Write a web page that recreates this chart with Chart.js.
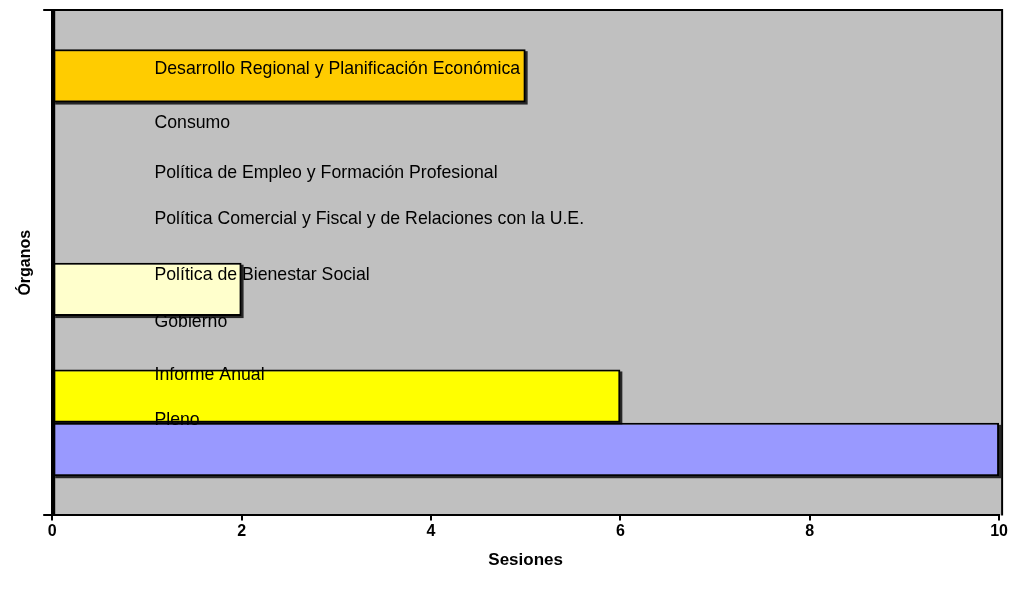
<!DOCTYPE html>
<html>
<head>
<meta charset="utf-8">
<script src="https://cdn.jsdelivr.net/npm/chart.js@4/dist/chart.umd.min.js"></script>
<style>
  body { margin: 0; background: #fff; }
  #wrap { width: 1010px; height: 594px; }
</style>
</head>
<body>
<div id="wrap"><canvas id="organosChart" width="1010" height="594"></canvas></div>
<script>
// data
const organos = [
  "Desarrollo Regional y Planificación Económica",
  "Consumo",
  "Política de Empleo y Formación Profesional",
  "Política Comercial y Fiscal y de Relaciones con la U.E.",
  "Política de Bienestar Social",
  "Gobierno",
  "Informe Anual",
  "Pleno"
];
const sesiones = [5, 0, 0, 0, 2, 0, 6, 10];
const xTicks = [0, 2, 4, 6, 8, 10];

const colores = ["#FFCC00", "#FFFFCC", "#FFFFCC", "#FFFFCC", "#FFFFCC", "#FFFFCC", "#FFFF00", "#9999FF"];
// label placement (hand placed in the original)
const labelAtX = 1.08;
const labelShift = [-7, -6, -10, -17, -14, -21, -21, -29];

const datasets = organos.map(function (name, i) {
  return {
    label: name,
    data: [sesiones[i]],
    backgroundColor: colores[i],
    borderColor: "#000",
    borderWidth: 2,
    borderSkipped: false,
    categoryPercentage: 0.845,
    barPercentage: 1.0
  };
});

const plotArea = {
  id: "plotArea",
  beforeDraw(chart) {
    const a = chart.chartArea, ctx = chart.ctx;
    ctx.save();
    ctx.fillStyle = "#C0C0C0";
    ctx.fillRect(a.left, a.top, a.right - a.left + 2, a.bottom - a.top);
    ctx.restore();
  },
  beforeDatasetsDraw(chart) {
    // drop shadow under each bar
    const ctx = chart.ctx;
    ctx.save();
    ctx.fillStyle = "rgba(0,0,0,0.8)";
    chart.data.datasets.forEach(function (ds, i) {
      const bar = chart.getDatasetMeta(i).data[0];
      const w = bar.x - bar.base;
      if (w <= 0) return;
      ctx.fillRect(bar.base + 2, bar.y - bar.height / 2 + 2, w, bar.height);
    });
    ctx.restore();
  },
  afterDatasetsDraw(chart) {
    const ctx = chart.ctx, a = chart.chartArea;
    // frame
    ctx.save();
    ctx.strokeStyle = "#000";
    ctx.lineWidth = 2;
    ctx.beginPath();
    ctx.moveTo(a.left, a.top);
    ctx.lineTo(a.right + 3, a.top);
    ctx.lineTo(a.right + 3, a.bottom);
    ctx.stroke();
    ctx.fillStyle = "#000";
    ctx.fillRect(a.left - 1, a.top, 4, a.bottom - a.top);
    // series names
    ctx.font = "17.7px 'Liberation Sans', Arial, sans-serif";
    ctx.textBaseline = "middle";
    ctx.textAlign = "left";
    const x = chart.scales.x.getPixelForValue(labelAtX);
    chart.data.datasets.forEach(function (ds, i) {
      const bar = chart.getDatasetMeta(i).data[0];
      ctx.fillText(ds.label, x, bar.y + labelShift[i]);
    });
    ctx.restore();
  }
};

const canvas = document.getElementById("organosChart");
const ctx = canvas.getContext("2d");

new Chart(ctx, {
  type: "bar",
  data: { labels: [""], datasets: datasets },
  plugins: [plotArea],
  options: {
    indexAxis: "y",
    responsive: false,
    animation: false,
    layout: { padding: { top: 10, right: 7, bottom: 23, left: 16 } },
    plugins: { legend: { display: false }, tooltip: { enabled: false } },
    scales: {
      x: {
        min: 0,
        max: 10,
        afterBuildTicks(scale) {
          scale.ticks = xTicks.map(function (v) { return { value: v }; });
        },
        grid: { drawOnChartArea: false, drawTicks: true, tickLength: 5, color: "#000", lineWidth: 2 },
        border: { display: true, color: "#000", width: 2 },
        ticks: {
          color: "#000",
          padding: 2,
          font: { family: "'Liberation Sans', Arial, sans-serif", size: 16, weight: "bold" }
        },
        title: {
          display: true,
          text: "Sesiones",
          color: "#000",
          padding: { top: 7, bottom: 0 },
          font: { family: "'Liberation Sans', Arial, sans-serif", size: 17, weight: "bold" }
        }
      },
      y: {
        offset: true,
        grid: { drawOnChartArea: false, drawTicks: true, tickLength: 9, color: "#000", lineWidth: 2, offset: true },
        border: { display: true, color: "#000", width: 2 },
        ticks: { display: true, padding: 0, font: { size: 1 } },
        title: {
          display: true,
          text: "Órganos",
          color: "#000",
          padding: { top: 0, bottom: 8 },
          font: { family: "'Liberation Sans', Arial, sans-serif", size: 16, weight: "bold" }
        }
      }
    }
  }
});
</script>
</body>
</html>
